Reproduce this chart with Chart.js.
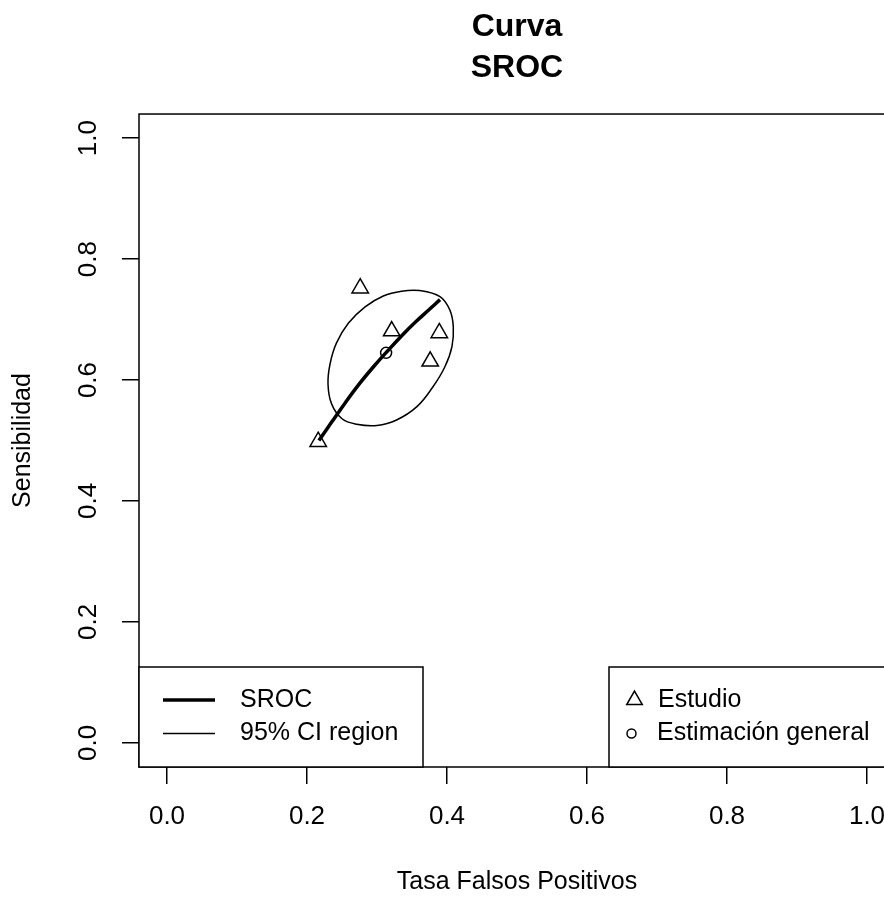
<!DOCTYPE html>
<html>
<head>
<meta charset="utf-8">
<script src="https://cdn.jsdelivr.net/npm/chart.js@4.4.1/dist/chart.umd.min.js"></script>
<style>
  html, body { margin: 0; padding: 0; background: #fff; overflow: hidden; }
  #wrap { width: 910px; height: 898px; }
</style>
</head>
<body>
<div id="wrap"><canvas id="sroc" width="910" height="898"></canvas></div>
<script>
// Individual studies: false positive rate vs sensitivity
const studyFpr  = [0.276, 0.321, 0.389, 0.376, 0.216];
const studySens = [0.752, 0.681, 0.678, 0.631, 0.498];

// Pooled summary estimate
const pooledFpr  = [0.313];
const pooledSens = [0.645];

// Summary ROC curve
const srocFpr  = [0.217, 0.235, 0.255, 0.275, 0.295, 0.315, 0.335, 0.355, 0.375, 0.390];
const srocSens = [0.500, 0.530, 0.563, 0.594, 0.622, 0.648, 0.673, 0.696, 0.717, 0.733];

// Outline of the 95% confidence region around the pooled estimate
const ciFpr  = [0.361, 0.390, 0.404, 0.409, 0.407, 0.397, 0.380, 0.357, 0.328, 0.300,
                0.271, 0.250, 0.235, 0.230, 0.233, 0.242, 0.259, 0.283, 0.309, 0.335];
const ciSens = [0.748, 0.738, 0.716, 0.688, 0.655, 0.622, 0.589, 0.556, 0.534, 0.525,
                0.527, 0.536, 0.561, 0.594, 0.627, 0.661, 0.694, 0.721, 0.739, 0.747];

// Axis ticks
const xTicks = [0.0, 0.2, 0.4, 0.6, 0.8, 1.0];
const yTicks = [0.0, 0.2, 0.4, 0.6, 0.8, 1.0];

// Legend entries
const lineLegend  = ['SROC', '95% CI region'];
const pointLegend = ['Estudio', 'Estimación general'];

const FAMILY = '"Liberation Sans", Arial, Helvetica, sans-serif';
const INK = '#000';

const toPoints = (xs, ys) => xs.map((x, i) => ({ x: x, y: ys[i] }));
// Closed outline: pad with the neighbouring vertices on both ends so every
// drawn spline segment has proper neighbours; the padding segments are hidden.
const ring = (xs, ys) => {
  const p = toPoints(xs, ys);
  return [p[p.length - 1]].concat(p, [p[0], p[1]]);
};
const ringData = ring(ciFpr, ciSens);
const ringLast = ringData.length - 1;

function drawTriangle(ctx, x, y, r) {
  ctx.beginPath();
  for (let k = 0; k < 3; k++) {
    const a = k * 2 * Math.PI / 3;
    const px = x + Math.sin(a) * r;
    const py = y - Math.cos(a) * r;
    if (k === 0) ctx.moveTo(px, py); else ctx.lineTo(px, py);
  }
  ctx.closePath();
  ctx.stroke();
}

// Plot frame and the two boxed legends in the lower corners
const framePlugin = {
  id: 'frameAndLegends',
  afterDraw(chart) {
    const { ctx, chartArea: a } = chart;
    ctx.save();
    ctx.strokeStyle = INK;
    ctx.fillStyle = INK;
    ctx.lineWidth = 1.5;
    ctx.strokeRect(a.left, a.top, a.right - a.left, a.bottom - a.top);

    const boxH = 100;
    const boxTop = a.bottom - boxH;
    const row1 = boxTop + 33;
    const row2 = boxTop + 66.5;
    ctx.font = '25px ' + FAMILY;
    ctx.textBaseline = 'middle';
    ctx.textAlign = 'left';

    // left legend: line styles
    const lw = 284;
    ctx.fillStyle = '#fff';
    ctx.fillRect(a.left, boxTop, lw, boxH);
    ctx.lineWidth = 1.5;
    ctx.strokeRect(a.left, boxTop, lw, boxH);
    ctx.beginPath();
    ctx.lineWidth = 3.5;
    ctx.moveTo(a.left + 24, row1); ctx.lineTo(a.left + 76, row1);
    ctx.stroke();
    ctx.beginPath();
    ctx.lineWidth = 1.5;
    ctx.moveTo(a.left + 24, row2); ctx.lineTo(a.left + 76, row2);
    ctx.stroke();
    ctx.fillStyle = INK;
    ctx.fillText(lineLegend[0], a.left + 101, row1);
    ctx.fillText(lineLegend[1], a.left + 101, row2);

    // right legend: point symbols
    const rw = 286;
    const rx = a.right - rw;
    ctx.fillStyle = '#fff';
    ctx.fillRect(rx, boxTop, rw, boxH);
    ctx.lineWidth = 1.5;
    ctx.strokeRect(rx, boxTop, rw, boxH);
    drawTriangle(ctx, rx + 25.5, row1, 9);
    ctx.beginPath();
    ctx.arc(rx + 22.5, row2, 4.5, 0, Math.PI * 2);
    ctx.stroke();
    ctx.fillStyle = INK;
    ctx.fillText(pointLegend[0], rx + 49, row1);
    ctx.fillText(pointLegend[1], rx + 48, row2);
    ctx.restore();
  }
};

const tickGrid = {
  drawOnChartArea: false,
  drawTicks: true,
  tickLength: 17,
  tickWidth: 1.5,
  tickColor: INK,
  color: INK,
  lineWidth: 1.5
};

new Chart(document.getElementById('sroc'), {
  type: 'scatter',
  data: {
    datasets: [
      {
        label: pointLegend[0],
        data: toPoints(studyFpr, studySens),
        showLine: false,
        pointStyle: 'triangle',
        pointRadius: 9.5,
        pointBorderWidth: 1.5,
        pointBorderColor: INK,
        pointBackgroundColor: 'rgba(0,0,0,0)'
      },
      {
        label: pointLegend[1],
        data: toPoints(pooledFpr, pooledSens),
        showLine: false,
        pointStyle: 'circle',
        pointRadius: 5.5,
        pointBorderWidth: 1.5,
        pointBorderColor: INK,
        pointBackgroundColor: 'rgba(0,0,0,0)'
      },
      {
        label: lineLegend[0],
        data: toPoints(srocFpr, srocSens),
        showLine: true,
        borderColor: INK,
        borderWidth: 3.5,
        pointRadius: 0,
        tension: 0.4,
        fill: false
      },
      {
        label: lineLegend[1],
        data: ringData,
        showLine: true,
        borderColor: INK,
        borderWidth: 1.5,
        pointRadius: 0,
        tension: 0.4,
        fill: false,
        segment: {
          borderColor: c => (c.p0DataIndex === 0 || c.p1DataIndex === ringLast) ? 'rgba(0,0,0,0)' : INK
        }
      }
    ]
  },
  options: {
    responsive: false,
    animation: false,
    events: [],
    layout: { padding: { left: 0, right: 15, top: 0, bottom: 0 } },
    plugins: {
      legend: { display: false },
      tooltip: { enabled: false },
      title: {
        display: true,
        fullSize: false,
        text: ['Curva', 'SROC'],
        color: INK,
        font: { family: FAMILY, size: 32, weight: 'bold', lineHeight: 1.266 },
        padding: { top: 7.25, bottom: 25.75 }
      }
    },
    scales: {
      x: {
        type: 'linear',
        position: 'bottom',
        min: -0.04,
        max: 1.04,
        bounds: 'data',
        afterBuildTicks: s => { s.ticks = xTicks.map(v => ({ value: v })); },
        afterFit: s => { s.height = 131; },
        grid: tickGrid,
        border: { display: false },
        ticks: {
          color: INK,
          font: { family: FAMILY, size: 26 },
          padding: 17.4,
          maxRotation: 0,
          autoSkip: false,
          callback: v => Number(v).toFixed(1)
        },
        title: {
          display: true,
          text: 'Tasa Falsos Positivos',
          color: INK,
          font: { family: FAMILY, size: 25 },
          padding: { top: 0, bottom: 1 }
        }
      },
      y: {
        type: 'linear',
        position: 'left',
        min: -0.04,
        max: 1.04,
        bounds: 'data',
        afterBuildTicks: s => { s.ticks = yTicks.map(v => ({ value: v })); },
        afterFit: s => { s.width = 139; },
        grid: tickGrid,
        border: { display: false },
        ticks: {
          color: INK,
          font: { family: FAMILY, size: 26 },
          padding: 15,
          minRotation: 90,
          maxRotation: 90,
          crossAlign: 'center',
          autoSkip: false,
          callback: v => Number(v).toFixed(1)
        },
        title: {
          display: true,
          text: 'Sensibilidad',
          color: INK,
          font: { family: FAMILY, size: 25 },
          padding: { top: 8, bottom: 0 }
        }
      }
    }
  },
  plugins: [framePlugin]
});
</script>
</body>
</html>
